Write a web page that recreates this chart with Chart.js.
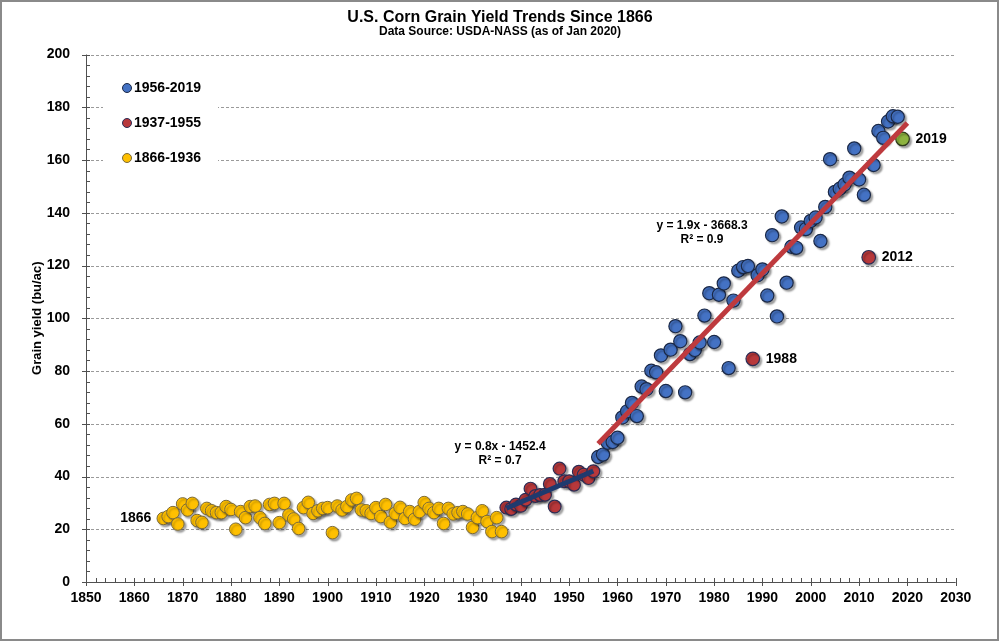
<!DOCTYPE html>
<html>
<head>
<meta charset="utf-8">
<script src="https://cdn.jsdelivr.net/npm/chart.js@4.4.1/dist/chart.umd.min.js"></script>
<style>
  html, body { margin: 0; padding: 0; background: #fff; }
  #wrap { width: 1000px; height: 643px; position: relative; }
  canvas { display: block; }
</style>
</head>
<body>
<div id="wrap"><canvas id="myChart" width="1000" height="643"></canvas></div>
<script>
// corn grain yield, bu/ac (one value per year)
const yieldEarly = [
  24.1, 24.8, 26.3, 22.0, 29.6, 27.3, 29.8, 23.3, 22.6, 27.9,
  27.0, 26.3, 26.3, 28.6, 27.5, 20.0, 26.7, 24.4, 28.6, 28.8,
  24.4, 22.2, 29.4, 29.8, 22.5, 29.8, 25.4, 23.9, 20.3, 28.2,
  30.2, 26.0, 27.0, 27.9, 28.2, 18.7, 28.8, 27.3, 28.6, 31.1,
  31.7, 27.3, 27.0, 26.0, 28.2, 24.8, 29.4, 22.7, 26.0, 28.3,
  24.1, 26.7, 23.8, 26.7, 30.1, 27.9, 26.3, 27.9, 22.2, 27.9,
  25.8, 26.3, 26.7, 25.8, 20.7, 24.4, 27.0, 22.9, 19.1, 24.4,
  19.1
];
const yieldMid = [
  28.2, 27.7, 29.4, 28.9, 31.2, 35.4, 32.6, 33.0, 33.1, 37.2,
  28.6, 43.0, 38.2, 38.2, 36.9, 41.8, 40.7, 39.4, 42.0
];
const yieldModern = [
  47.4, 48.3, 52.8, 53.1, 54.7, 62.4, 64.7, 67.9, 62.9, 74.1,
  73.1, 80.1, 79.5, 85.9, 72.4, 88.1, 97.0, 91.3, 71.9, 86.4,
  88.0, 90.8, 101.0, 109.5, 91.0, 108.9, 113.2, 81.1, 106.7, 118.0,
  119.4, 119.8, 84.6, 116.3, 118.5, 108.6, 131.5, 100.7, 138.6, 113.5,
  127.1, 126.7, 134.4, 133.8, 136.9, 138.2, 129.3, 142.2, 160.3, 147.9,
  149.1, 150.7, 153.3, 164.4, 152.6, 146.8, 123.1, 158.1, 171.0, 168.4,
  174.6, 176.6, 176.4, 168.0
];
const firstYearEarly = 1866;
const firstYearMid = 1937;
const firstYearModern = 1956;

const seriesLabels = ['1866-1936', '1937-1955', '1956-2019'];
const highlightYears = [1988, 2012, 2019];
const equationLabels = [
  ['y = 0.8x - 1452.4', 'R² = 0.7'],
  ['y = 1.9x - 3668.3', 'R² = 0.9']
];

const FONT = "'Liberation Sans', Arial, sans-serif";

function toPoints(firstYear, values) {
  return values.map((v, i) => ({ x: firstYear + i, y: v }));
}

// least squares line, returned as its two end points (forward = years of forecast)
function trend(pts, forward) {
  const n = pts.length;
  const mx = pts.reduce((s, p) => s + p.x, 0) / n;
  const my = pts.reduce((s, p) => s + p.y, 0) / n;
  let sxy = 0, sxx = 0;
  pts.forEach(p => { sxy += (p.x - mx) * (p.y - my); sxx += (p.x - mx) * (p.x - mx); });
  const m = sxy / sxx;
  const x0 = pts[0].x, x1 = pts[n - 1].x + forward;
  return [{ x: x0, y: my + m * (x0 - mx) }, { x: x1, y: my + m * (x1 - mx) }];
}

const earlyPts = toPoints(firstYearEarly, yieldEarly);
const midPts = toPoints(firstYearMid, yieldMid);
const modernPts = toPoints(firstYearModern, yieldModern);
const highlightPts = highlightYears.map(yr => modernPts.find(p => p.x === yr));
const modernPlain = modernPts.filter(p => !highlightYears.includes(p.x));

const colors = {
  early: '#FFC000', earlyEdge: '#7a6a3a',
  mid: '#B8383B', midEdge: '#2b2d55',
  modern: '#4472C4', modernEdge: '#1b2947',
  green: '#8DB33F', greenEdge: '#2e3b1a',
  midTrend: '#1F3A6E', modernTrend: '#BE3A3E'
};
const highlightFill = [colors.mid, colors.mid, colors.green];
const highlightEdge = [colors.midEdge, colors.midEdge, colors.greenEdge];

// drop shadow under the dots
const shadowPlugin = {
  id: 'shadow',
  beforeDatasetDraw(chart, args) {
    if (!chart.data.datasets[args.index].shadow) return;
    const c = chart.ctx;
    c.save();
    c.shadowColor = 'rgba(0,0,0,0.35)';
    c.shadowBlur = 2;
    c.shadowOffsetX = 2;
    c.shadowOffsetY = 2;
  },
  afterDatasetDraw(chart, args) {
    if (chart.data.datasets[args.index].shadow) chart.ctx.restore();
  }
};

// dashed grid, axis lines and major/minor tick marks
const axesPlugin = {
  id: 'axesDraw',
  beforeDatasetsDraw(chart) {
    const { ctx, chartArea: a, scales: { x, y } } = chart;
    ctx.save();
    ctx.strokeStyle = '#9a9a9a';
    ctx.lineWidth = 1;
    ctx.setLineDash([3, 2]);
    for (let v = 20; v <= 200; v += 20) {
      const py = Math.round(y.getPixelForValue(v)) + 0.5;
      ctx.beginPath(); ctx.moveTo(a.left, py); ctx.lineTo(a.right, py); ctx.stroke();
    }
    ctx.setLineDash([]);
    ctx.strokeStyle = '#505050';
    for (let v = 0; v <= 200; v += 4) {
      const py = Math.round(y.getPixelForValue(v)) + 0.5;
      const major = v % 20 === 0;
      ctx.beginPath(); ctx.moveTo(a.left - (major ? 4 : 0), py); ctx.lineTo(a.left + 4, py); ctx.stroke();
    }
    for (let v = 1850; v <= 2030; v += 2) {
      const px = Math.round(x.getPixelForValue(v)) + 0.5;
      const major = v % 10 === 0;
      ctx.beginPath(); ctx.moveTo(px, a.bottom - 4); ctx.lineTo(px, a.bottom + (major ? 4 : 0)); ctx.stroke();
    }
    ctx.beginPath();
    ctx.moveTo(Math.round(a.left) + 0.5, a.top);
    ctx.lineTo(Math.round(a.left) + 0.5, a.bottom);
    ctx.moveTo(a.left, Math.round(a.bottom) + 0.5);
    ctx.lineTo(a.right, Math.round(a.bottom) + 0.5);
    ctx.stroke();
    ctx.restore();
  }
};

// titles, legend, point labels, trend equations, frame
const textPlugin = {
  id: 'texts',
  afterDraw(chart) {
    const { ctx, chartArea: a, scales: { x, y } } = chart;
    ctx.save();
    ctx.fillStyle = '#000';
    ctx.textAlign = 'center';
    ctx.textBaseline = 'middle';
    ctx.font = 'bold 16px ' + FONT;
    ctx.fillText('U.S. Corn Grain Yield Trends Since 1866', 500, 18);
    ctx.font = 'bold 12px ' + FONT;
    ctx.fillText('Data Source: USDA-NASS (as of Jan 2020)', 500, 32);

    ctx.save();
    ctx.translate(37, (a.top + a.bottom) / 2);
    ctx.rotate(-Math.PI / 2);
    ctx.font = 'bold 13px ' + FONT;
    ctx.fillText('Grain yield (bu/ac)', 0, 0);
    ctx.restore();

    // legend
    ctx.fillStyle = '#fff';
    ctx.fillRect(103, 70, 115, 102);
    const legendRows = [
      [seriesLabels[2], colors.modern, colors.modernEdge],
      [seriesLabels[1], colors.mid, colors.midEdge],
      [seriesLabels[0], colors.early, colors.earlyEdge]
    ];
    legendRows.forEach((row, i) => {
      const ly = 88 + i * 35;
      ctx.beginPath();
      ctx.arc(127, ly, 4.5, 0, Math.PI * 2);
      ctx.fillStyle = row[1];
      ctx.fill();
      ctx.lineWidth = 1;
      ctx.strokeStyle = row[2];
      ctx.stroke();
      ctx.fillStyle = '#000';
      ctx.textAlign = 'left';
      ctx.font = 'bold 14px ' + FONT;
      ctx.fillText(row[0], 134, ly);
    });

    // point labels
    ctx.font = 'bold 14px ' + FONT;
    const first = earlyPts[0];
    ctx.textAlign = 'right';
    ctx.fillText(String(first.x), x.getPixelForValue(first.x) - 12, y.getPixelForValue(first.y));
    ctx.textAlign = 'left';
    highlightPts.forEach(p => {
      ctx.fillText(String(p.x), x.getPixelForValue(p.x) + 13, y.getPixelForValue(p.y));
    });

    // trend equations
    ctx.font = 'bold 12px ' + FONT;
    ctx.textAlign = 'center';
    const eqPos = [[1935.7, 51.3], [1977.5, 135]];
    equationLabels.forEach((lines, i) => {
      const px = x.getPixelForValue(eqPos[i][0]);
      const py = y.getPixelForValue(eqPos[i][1]);
      ctx.fillText(lines[0], px, py);
      ctx.fillText(lines[1], px, py + 14);
    });

    // outer frame
    ctx.strokeStyle = '#8a8a8a';
    ctx.lineWidth = 2;
    ctx.strokeRect(1, 1, 997, 639);
    ctx.restore();
  }
};

const ctx = document.getElementById('myChart').getContext('2d');
new Chart(ctx, {
  type: 'scatter',
  data: {
    datasets: [
      {
        label: 'trend ' + seriesLabels[2], data: trend(modernPts, 1), type: 'line',
        borderColor: colors.modernTrend, borderWidth: 5, pointRadius: 0, order: 0
      },
      {
        label: 'trend ' + seriesLabels[1], data: trend(midPts, 0), type: 'line',
        borderColor: colors.midTrend, borderWidth: 5, pointRadius: 0, order: 0
      },
      {
        label: 'highlight', data: highlightPts, shadow: true, order: 1,
        pointRadius: 6.8, pointBackgroundColor: highlightFill,
        pointBorderColor: highlightEdge, pointBorderWidth: 1.2
      },
      {
        label: seriesLabels[2], data: modernPlain, shadow: true, order: 2,
        pointRadius: 6.6, pointBackgroundColor: colors.modern,
        pointBorderColor: colors.modernEdge, pointBorderWidth: 1.2
      },
      {
        label: seriesLabels[1], data: midPts, shadow: true, order: 3,
        pointRadius: 6.4, pointBackgroundColor: colors.mid,
        pointBorderColor: colors.midEdge, pointBorderWidth: 1.2
      },
      {
        label: seriesLabels[0], data: earlyPts, shadow: true, order: 4,
        pointRadius: 6.3, pointBackgroundColor: colors.early,
        pointBorderColor: colors.earlyEdge, pointBorderWidth: 1
      }
    ]
  },
  options: {
    responsive: false,
    animation: false,
    devicePixelRatio: 1,
    layout: { padding: { top: 54.5, right: 44.3, left: 0, bottom: 0 } },
    plugins: { legend: { display: false }, tooltip: { enabled: false }, title: { display: false } },
    scales: {
      x: {
        type: 'linear', min: 1850, max: 2030,
        grid: { display: false, drawTicks: false },
        border: { display: false },
        ticks: {
          stepSize: 10, padding: 8, maxRotation: 0, color: '#000',
          font: { family: FONT, size: 14, weight: 'bold' },
          callback: v => String(v)
        },
        afterFit: s => { s.height = 61; }
      },
      y: {
        min: 0, max: 200,
        grid: { display: false, drawTicks: false },
        border: { display: false },
        ticks: { stepSize: 20, padding: 16, color: '#000', font: { family: FONT, size: 14, weight: 'bold' } },
        afterFit: s => { s.width = 86; }
      }
    }
  },
  plugins: [shadowPlugin, axesPlugin, textPlugin]
});
</script>
</body>
</html>
